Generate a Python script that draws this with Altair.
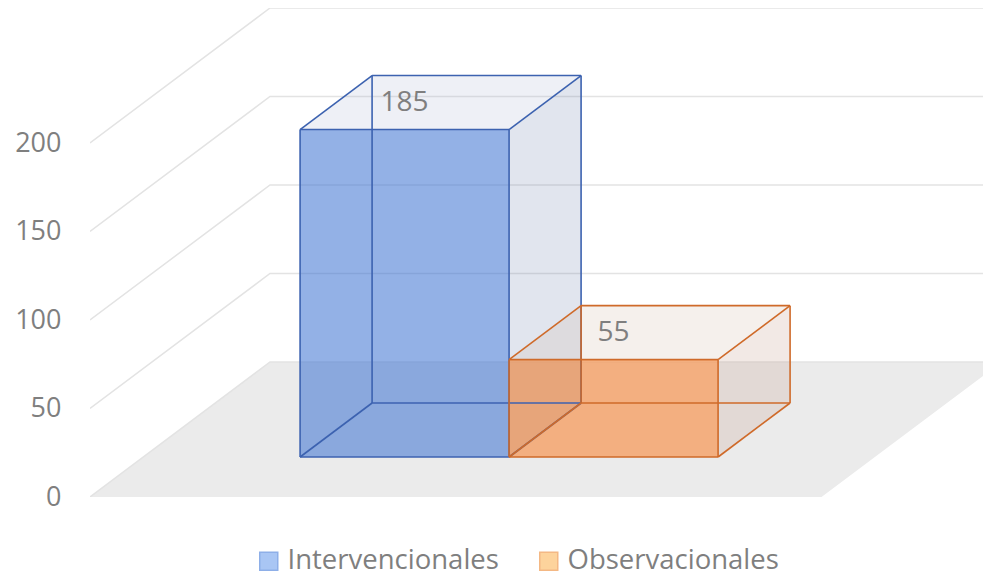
import altair as alt
import pandas as pd

# ---------------- data ----------------
categories = ["Intervencionales", "Observacionales"]
values = [185, 55]
tick_values = [0, 50, 100, 150, 200]

# ---------------- styles ----------------
face_front = ["#3b71d2", "#fa7d28"]
face_top = ["#aab4d2", "#cdb4a0"]
face_side = ["#697daa", "#be917d"]
edge_colors = ["#3c62b0", "#cf6a29"]
legend_fill = ["#a9c6f4", "#fdd39c"]
legend_stroke = ["#8eafe8", "#f4b884"]
FONT = "Open Sans"
TEXT_COLOR = "#7f7f7f"

# ---------------- layout (pseudo-3D projection) ----------------
PLOT_W, PLOT_H = 893, 489
UNIT_PX = 209          # px per category slot
PX_PER_VAL = 1.77      # px per value unit
XMAX = PLOT_W / UNIT_PX
YMAX = PLOT_H / PX_PER_VAL
DX = 180 / UNIT_PX     # depth offset in x units
DY = 135 / PX_PER_VAL  # depth offset in value units
FLOOR_W = 3.5
BAR_START = 0.75
Z0, Z1 = 40 / 135, 94 / 135
ZMID = (Z0 + Z1) / 2

xs = alt.Scale(domain=[0, XMAX], nice=False, zero=False)
ys = alt.Scale(domain=[0, YMAX], nice=False, zero=False)


def P(x, z):
    return x + z * DX


def Q(y, z):
    return y + z * DY


# floor
floor_df = pd.DataFrame({
    "y": [Q(0, 0), Q(0, 1)],
    "x": [P(0, 0), P(0, 1)],
    "x2": [P(FLOOR_W, 0), P(FLOOR_W, 1)],
})

# perspective gridlines
grid_rows = []
for t in tick_values:
    grid_rows += [
        {"t": t, "o": 0, "x": P(0, 0), "y": Q(t, 0)},
        {"t": t, "o": 1, "x": P(0, 1), "y": Q(t, 1)},
        {"t": t, "o": 2, "x": XMAX, "y": Q(t, 1)},
    ]
grid_df = pd.DataFrame(grid_rows)

front_rows, top_rows, side_rows, edge_rows, label_rows = [], [], [], [], []
for i, (c, v) in enumerate(zip(categories, values)):
    xl = BAR_START + i
    xr = xl + 1
    front_rows.append({"cat": c, "col": face_front[i],
                       "x": P(xl, Z0), "x2": P(xr, Z0),
                       "y": Q(0, Z0), "y2": Q(v, Z0)})
    for z in (Z0, Z1):
        top_rows.append({"cat": c, "col": face_top[i],
                         "y": Q(v, z), "x": P(xl, z), "x2": P(xr, z)})
        side_rows.append({"cat": c, "col": face_side[i],
                          "x": P(xr, z), "y": Q(0, z), "y2": Q(v, z)})
    # 12 box edges
    for z in (Z0, Z1):
        for yy in (0, v):
            edge_rows.append({"col": edge_colors[i], "x": P(xl, z), "x2": P(xr, z),
                              "y": Q(yy, z), "y2": Q(yy, z)})
        for xx in (xl, xr):
            edge_rows.append({"col": edge_colors[i], "x": P(xx, z), "x2": P(xx, z),
                              "y": Q(0, z), "y2": Q(v, z)})
    for xx in (xl, xr):
        for yy in (0, v):
            edge_rows.append({"col": edge_colors[i], "x": P(xx, Z0), "x2": P(xx, Z1),
                              "y": Q(yy, Z0), "y2": Q(yy, Z1)})
    label_rows.append({"cat": c, "label": str(v),
                       "x": P(xl + 0.5, Z0), "y": Q(v, ZMID)})

front_df = pd.DataFrame(front_rows)
top_df = pd.DataFrame(top_rows)
side_df = pd.DataFrame(side_rows)
edge_df = pd.DataFrame(edge_rows)
label_df = pd.DataFrame(label_rows)
legend_df = pd.DataFrame({"cat": categories, "x": [-1, -1], "y": [-1, -1]})

y_axis = alt.Axis(values=tick_values, title=None, grid=False, domain=False,
                  ticks=False, tickSize=0, labelPadding=29,
                  labelFont=FONT, labelFontSize=27, labelColor=TEXT_COLOR)


def X(field="x"):
    return alt.X(f"{field}:Q", scale=xs, axis=None, stack=None)


def Y(field="y"):
    return alt.Y(f"{field}:Q", scale=ys, axis=y_axis, stack=None)


leg = alt.Legend(orient="none", legendX=165, legendY=539, direction="horizontal",
                 title=None, symbolType="square", symbolSize=324,
                 symbolStrokeWidth=1.5, symbolOpacity=1, labelFont=FONT,
                 labelFontSize=27.5, labelColor=TEXT_COLOR, labelOffset=5,
                 labelLimit=0, columnPadding=36, padding=0)

legend_layer = alt.Chart(legend_df).mark_square(filled=True, size=324, opacity=1, clip=True).encode(
    x=X(), y=Y(),
    fill=alt.Fill("cat:N", scale=alt.Scale(domain=categories, range=legend_fill), legend=leg),
    stroke=alt.Stroke("cat:N", scale=alt.Scale(domain=categories, range=legend_stroke), legend=leg),
)

floor = alt.Chart(floor_df).mark_area(orient="horizontal", color="#ebebeb", clip=True).encode(
    y=Y(), x=X(), x2="x2:Q",
)

grid = alt.Chart(grid_df).mark_line(color="#e3e3e3", strokeWidth=1.5, clip=True).encode(
    x=X(), y=Y(), detail="t:N", order="o:Q",
)

side = alt.Chart(side_df).mark_area(orient="vertical", fillOpacity=0.2).encode(
    x=X(), y=Y(), y2="y2:Q",
    fill=alt.Fill("col:N", scale=None),
    detail="cat:N",
)

top = alt.Chart(top_df).mark_area(orient="horizontal", fillOpacity=0.2).encode(
    y=Y(), x=X(), x2="x2:Q",
    fill=alt.Fill("col:N", scale=None),
    detail="cat:N",
)

front = alt.Chart(front_df).mark_rect(fillOpacity=0.55).encode(
    x=X(), x2="x2:Q", y=Y(), y2="y2:Q",
    fill=alt.Fill("col:N", scale=None),
)

edges = alt.Chart(edge_df).mark_rule(strokeWidth=1.6).encode(
    x=X(), x2="x2:Q", y=Y(), y2="y2:Q",
    stroke=alt.Stroke("col:N", scale=None),
)

labels = alt.Chart(label_df).mark_text(font=FONT, fontSize=28, color=TEXT_COLOR,
                                       align="center", baseline="middle").encode(
    x=X(), y=Y(), text="label:N",
)

chart = alt.layer(legend_layer, floor, grid, side, top, front, edges, labels).properties(
    width=PLOT_W,
    height=PLOT_H,
    autosize=alt.AutoSizeParams(type="none"),
    padding={"left": 82, "top": 0, "right": 0, "bottom": 77},
    background="white",
).configure_view(stroke=None)

chart.save("out.html", embed_options={"renderer": "svg", "actions": False})
